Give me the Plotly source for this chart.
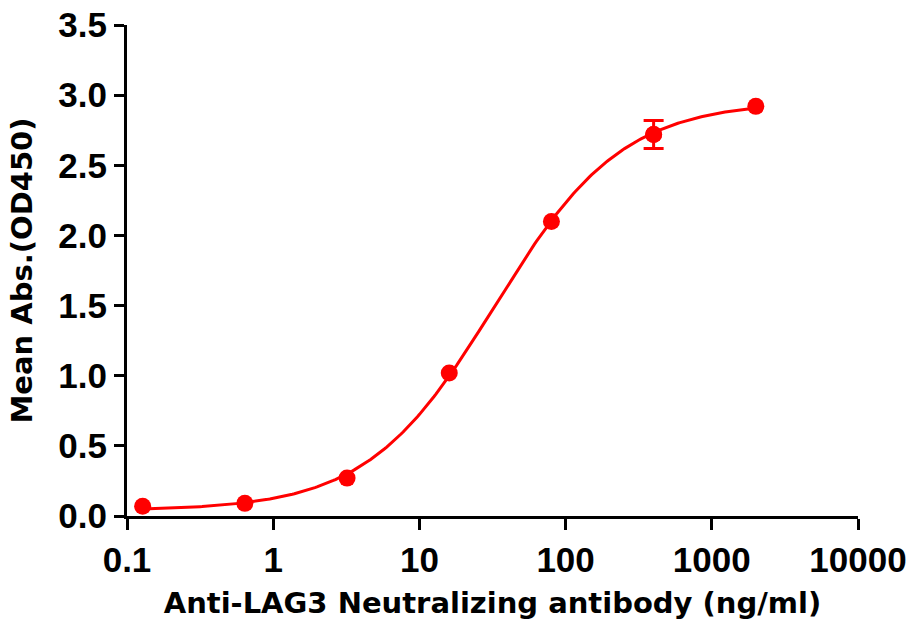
import numpy as np
import plotly.graph_objects as go

# ---- data ----
conc_ng_ml = [0.128, 0.64, 3.2, 16, 80, 400, 2000]
mean_abs = [0.07, 0.09, 0.27, 1.02, 2.10, 2.72, 2.92]
err_abs = [0.0, 0.0, 0.0, 0.0, 0.0, 0.10, 0.0]

x_tickvals = [0.1, 1, 10, 100, 1000, 10000]
x_ticktext = ["0.1", "1", "10", "100", "1000", "10000"]
y_tickvals = [0.0, 0.5, 1.0, 1.5, 2.0, 2.5, 3.0, 3.5]

x_title = "Anti-LAG3 Neutralizing antibody (ng/ml)"
y_title = "Mean Abs.(OD450)"

# ---- 4-parameter logistic fit of the data (grid over EC50 / Hill, linear in bottom/top) ----
xd = np.array(conc_ng_ml, dtype=float)
yd = np.array(mean_abs, dtype=float)
best = None
for log_ec50 in np.linspace(0.5, 2.5, 401):
    for hill in np.linspace(0.5, 2.0, 301):
        f = 1.0 / (1.0 + (10 ** log_ec50 / xd) ** hill)
        A = np.column_stack([1 - f, f])
        coef, *_ = np.linalg.lstsq(A, yd, rcond=None)
        sse = float(np.sum((A @ coef - yd) ** 2))
        if best is None or sse < best[0]:
            best = (sse, log_ec50, hill, coef[0], coef[1])
_, log_ec50, hill, bottom, top = best
xc = np.logspace(np.log10(xd.min()), np.log10(xd.max()), 300)
yc = bottom + (top - bottom) / (1.0 + (10 ** log_ec50 / xc) ** hill)

RED = "#FF0000"
fig = go.Figure()
fig.add_trace(go.Scatter(x=xc, y=yc, mode="lines",
                         line=dict(color=RED, width=3), hoverinfo="skip",
                         showlegend=False, cliponaxis=False))

# error bars only where an error is present
idx_err = [i for i, e in enumerate(err_abs) if e > 0]
fig.add_trace(go.Scatter(x=[conc_ng_ml[i] for i in idx_err],
                         y=[mean_abs[i] for i in idx_err], mode="markers",
                         marker=dict(color=RED, size=17, line=dict(width=0)),
                         error_y=dict(type="data", array=[err_abs[i] for i in idx_err],
                                      visible=True, color=RED, thickness=3, width=10),
                         showlegend=False, cliponaxis=False))
fig.add_trace(go.Scatter(x=conc_ng_ml, y=mean_abs, mode="markers",
                         marker=dict(color=RED, size=17, line=dict(width=0)),
                         showlegend=False, cliponaxis=False))

tick_font = dict(family="Liberation Sans, Arial, sans-serif", size=35, color="black", weight="bold")
title_font = dict(family="DejaVu Sans, sans-serif", size=29, color="black", weight="bold")

fig.update_layout(
    width=913, height=628,
    margin=dict(l=127, r=55, t=25, b=112, autoexpand=False),
    paper_bgcolor="white", plot_bgcolor="white",
    xaxis=dict(type="log", range=[-1, 4], tickvals=x_tickvals, ticktext=x_ticktext,
               ticks="outside", ticklen=11, tickwidth=3, tickcolor="black",
               showline=True, linewidth=3, linecolor="black", automargin=False,
               showgrid=False, zeroline=False, tickfont=tick_font,
               ticklabeloverflow="allow",
               title=dict(text=x_title, font=title_font, standoff=15)),
    yaxis=dict(range=[0, 3.5], tickvals=y_tickvals, tickformat=".1f",
               ticks="outside", ticklen=10, tickwidth=3, tickcolor="black",
               showline=True, linewidth=3, linecolor="black", automargin=False,
               showgrid=False, zeroline=False, tickfont=tick_font,
               ticklabeloverflow="allow",
               title=dict(text=y_title, font=title_font, standoff=18)),
)

# remove the default 8px page margin so the figure fills the window exactly
fig.write_html("out.html",
               config={"displayModeBar": False},
               post_script="document.body.style.margin='0px';document.body.style.overflow='hidden';")
